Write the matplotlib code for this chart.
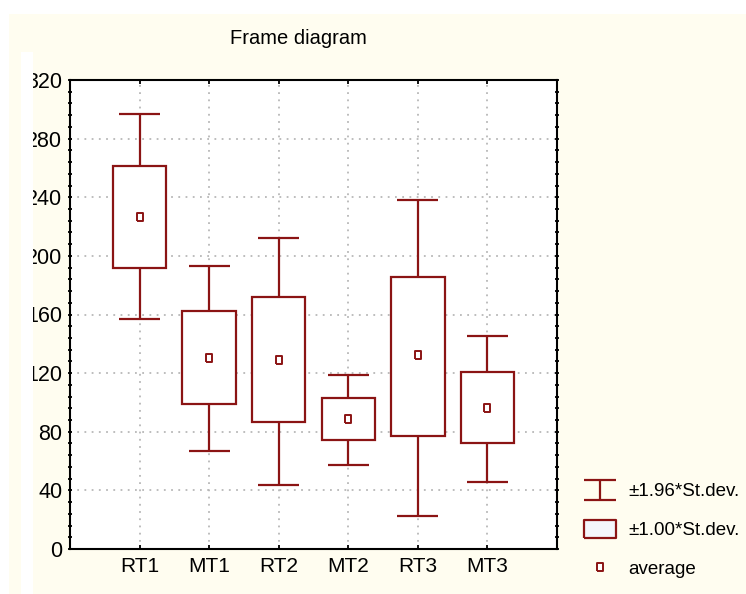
import numpy as np
import matplotlib.pyplot as plt
from matplotlib.patches import Rectangle
from matplotlib.path import Path
from matplotlib.lines import Line2D
from matplotlib.ticker import MultipleLocator

plt.rcParams['font.family'] = ['Liberation Sans', 'DejaVu Sans']

# values
groups = ['RT1', 'MT1', 'RT2', 'MT2', 'RT3', 'MT3']
means = [226.5, 130.6, 129.0, 88.7, 132.2, 96.4]
box_lo = [191.9, 98.9, 86.4, 74.3, 77.3, 72.5]
box_hi = [261.4, 162.3, 171.6, 103.2, 185.5, 120.6]
whisk_lo = [156.6, 67.2, 43.5, 57.2, 22.8, 46.0]
whisk_hi = [296.5, 192.8, 212.2, 118.8, 238.4, 145.0]
y_ticks = [0, 40, 80, 120, 160, 200, 240, 280, 320]
legend_labels = ['\u00b11.96*St.dev.', '\u00b11.00*St.dev.', 'average']

red = '#8b1414'
cream = '#fffdf0'
W, H = 746, 594

fig = plt.figure(figsize=(W / 100, H / 100), dpi=100)
fig.patch.set_facecolor('white')

# cream panel behind everything, white strip that clips the y labels
fig.add_artist(Rectangle((9 / W, 0), 1, 1 - 14 / H, transform=fig.transFigure,
                         facecolor=cream, edgecolor='none', zorder=-10))
fig.add_artist(Rectangle((21 / W, 0), 12 / W, 1 - 52 / H, transform=fig.transFigure,
                         facecolor='white', edgecolor='none', zorder=10))

ax = fig.add_axes([70 / W, 1 - 549 / H, (557 - 70) / W, (549 - 80) / H])
ax.set_facecolor('white')

x = np.arange(1, len(groups) + 1)
box_w = 0.77
cap_w = 0.59

ax.vlines(x, whisk_lo, whisk_hi, color=red, lw=1.6, zorder=3)
ax.hlines(whisk_lo, x - cap_w / 2, x + cap_w / 2, color=red, lw=1.6, zorder=3)
ax.hlines(whisk_hi, x - cap_w / 2, x + cap_w / 2, color=red, lw=1.6, zorder=3)
ax.bar(x, np.array(box_hi) - np.array(box_lo), bottom=box_lo, width=box_w,
       facecolor='white', edgecolor=red, linewidth=1.6, zorder=4)

mean_mark = Path([(-0.7, -1), (0.7, -1), (0.7, 1), (-0.7, 1), (-0.7, -1)])
ax.plot(x, means, linestyle='none', marker=mean_mark, markersize=6,
        markerfacecolor='white', markeredgecolor=red, markeredgewidth=1.4, zorder=5)

ax.set_xlim(0, 7)
ax.set_ylim(0, 320)
ax.set_xticks(x)
ax.set_xticklabels(groups)
ax.set_yticks(y_ticks)
ax.yaxis.set_minor_locator(MultipleLocator(8))

ax.grid(True, which='major', color='#b8b8b8', linestyle=(0, (1, 3)), linewidth=1.3)
ax.set_axisbelow(True)

for s in ax.spines.values():
    s.set_linewidth(1.5)
    s.set_color('black')

ax.tick_params(axis='x', which='major', direction='in', top=True, length=3,
               width=1.3, labelsize=15, pad=6)
ax.tick_params(axis='y', which='both', direction='inout', right=True, length=3,
               width=1.3, labelsize=15.5, pad=4)

fig.text(298 / W, 1 - 38 / H, 'Frame diagram', ha='center', va='center', fontsize=14.5)

# legend
whisk_sym = Path([(-1, 0.6), (1, 0.6), (0, 0.6), (0, -0.6), (-1, -0.6), (1, -0.6)],
                 [Path.MOVETO, Path.LINETO, Path.MOVETO, Path.LINETO, Path.MOVETO, Path.LINETO])
box_sym = Path([(-1, -0.56), (1, -0.56), (1, 0.56), (-1, 0.56), (-1, -0.56)])
handles = [
    Line2D([], [], linestyle='none', marker=whisk_sym, markersize=23,
           markerfacecolor='none', markeredgecolor=red, markeredgewidth=1.6),
    Line2D([], [], linestyle='none', marker=box_sym, markersize=23,
           markerfacecolor='#f4f6fb', markeredgecolor=red, markeredgewidth=1.6),
    Line2D([], [], linestyle='none', marker=mean_mark, markersize=6,
           markerfacecolor='white', markeredgecolor=red, markeredgewidth=1.4),
]
fig.legend(handles, legend_labels, loc='upper left',
           bbox_to_anchor=(569 / W, 1 - 470 / H), frameon=False,
           fontsize=13.5, handlelength=1.9, handletextpad=0.58,
           labelspacing=1.16, borderpad=0.2)

fig.savefig('out.png', dpi=100)
